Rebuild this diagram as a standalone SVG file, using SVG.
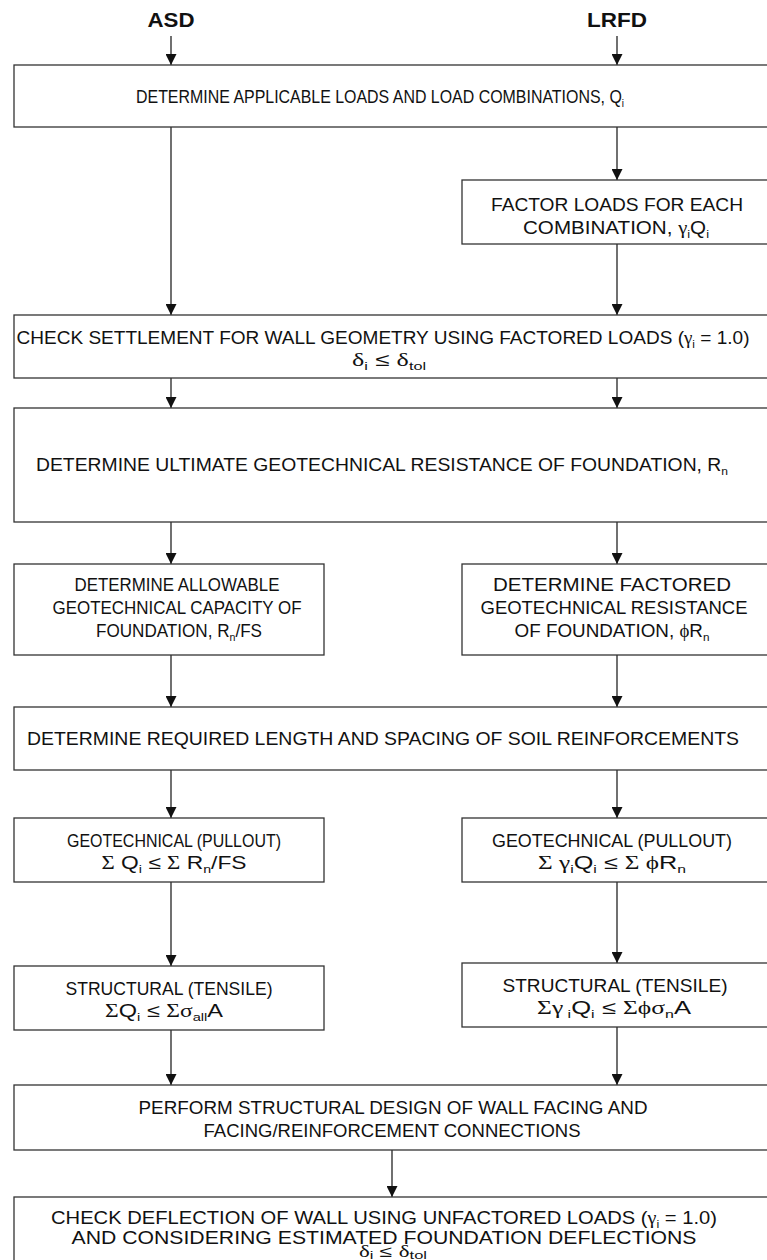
<svg xmlns="http://www.w3.org/2000/svg" width="767" height="1260" viewBox="0 0 767 1260">
  <defs>
    <style>
      .box { fill: #fff; stroke: #333; stroke-width: 1.3; }
      .wire { fill: none; stroke: #111; stroke-width: 1.2; }
      .t { font-family: "Liberation Sans", Arial, sans-serif; font-size: 18.5px; fill: #111; text-anchor: middle; }
      .head { font-family: "Liberation Sans", Arial, sans-serif; font-size: 21px; font-weight: bold; fill: #111; text-anchor: middle; }
      .g { font-family: "Liberation Serif", "DejaVu Serif", serif; }
      .s { font-size: 11.5px; }
    </style>
    <marker id="arrow" viewBox="0 0 10 10" refX="10" refY="5" markerWidth="11" markerHeight="11" markerUnits="userSpaceOnUse" orient="auto">
      <path d="M0,0 L10,5 L0,10 z" fill="#111"/>
    </marker>
  </defs>
  <rect width="767" height="1260" fill="#fff"/>

  <!-- column headings -->
  <g id="heading-asd"><text class="head" x="171" y="27" textLength="47" lengthAdjust="spacingAndGlyphs">ASD</text></g>
  <g id="heading-lrfd"><text class="head" x="617" y="27" textLength="60" lengthAdjust="spacingAndGlyphs">LRFD</text></g>

  <!-- connectors -->
  <g id="connectors" class="wire">
    <line x1="171" y1="36" x2="171" y2="65" marker-end="url(#arrow)"/>
    <line x1="617" y1="36" x2="617" y2="65" marker-end="url(#arrow)"/>
    <line x1="171" y1="127" x2="171" y2="315" marker-end="url(#arrow)"/>
    <line x1="617" y1="127" x2="617" y2="180" marker-end="url(#arrow)"/>
    <line x1="617" y1="244" x2="617" y2="315" marker-end="url(#arrow)"/>
    <line x1="171" y1="378" x2="171" y2="408" marker-end="url(#arrow)"/>
    <line x1="617" y1="378" x2="617" y2="408" marker-end="url(#arrow)"/>
    <line x1="171" y1="522" x2="171" y2="564" marker-end="url(#arrow)"/>
    <line x1="617" y1="522" x2="617" y2="564" marker-end="url(#arrow)"/>
    <line x1="171" y1="655" x2="171" y2="707" marker-end="url(#arrow)"/>
    <line x1="617" y1="655" x2="617" y2="707" marker-end="url(#arrow)"/>
    <line x1="171" y1="770" x2="171" y2="818" marker-end="url(#arrow)"/>
    <line x1="617" y1="770" x2="617" y2="818" marker-end="url(#arrow)"/>
    <line x1="171" y1="882" x2="171" y2="966" marker-end="url(#arrow)"/>
    <line x1="617" y1="882" x2="617" y2="963" marker-end="url(#arrow)"/>
    <line x1="171" y1="1030" x2="171" y2="1085" marker-end="url(#arrow)"/>
    <line x1="617" y1="1027" x2="617" y2="1085" marker-end="url(#arrow)"/>
    <line x1="392" y1="1150" x2="392" y2="1197" marker-end="url(#arrow)"/>
  </g>

  <g id="loads">
    <rect class="box" x="14" y="65" width="758" height="62"/>
    <text class="t" x="380" y="103" textLength="488" lengthAdjust="spacingAndGlyphs">DETERMINE APPLICABLE LOADS AND LOAD COMBINATIONS, Q<tspan class="s" dy="4">i</tspan></text>
  </g>

  <g id="factor-loads">
    <rect class="box" x="462" y="180" width="310" height="64"/>
    <text class="t" x="617" y="211" textLength="252" lengthAdjust="spacingAndGlyphs">FACTOR LOADS FOR EACH</text>
    <text class="t" x="616" y="234" textLength="186" lengthAdjust="spacingAndGlyphs">COMBINATION, <tspan class="g">γ</tspan><tspan class="s" dy="4">i</tspan><tspan dy="-4">Q</tspan><tspan class="s" dy="4">i</tspan></text>
  </g>

  <g id="settlement">
    <rect class="box" x="14" y="315" width="758" height="63"/>
    <text class="t" x="383" y="344" textLength="733" lengthAdjust="spacingAndGlyphs">CHECK SETTLEMENT FOR WALL GEOMETRY USING FACTORED LOADS (<tspan class="g">γ</tspan><tspan class="s" dy="4">i</tspan><tspan dy="-4"> = 1.0)</tspan></text>
    <text class="t" x="389" y="366" textLength="74" lengthAdjust="spacingAndGlyphs"><tspan class="g">δ</tspan><tspan class="s" dy="4">i</tspan><tspan dy="-4">  ≤ </tspan><tspan class="g">δ</tspan><tspan class="s" dy="4">tol</tspan></text>
  </g>

  <g id="ultimate-resistance">
    <rect class="box" x="14" y="408" width="758" height="114"/>
    <text class="t" x="382" y="471" textLength="692" lengthAdjust="spacingAndGlyphs">DETERMINE ULTIMATE GEOTECHNICAL RESISTANCE OF FOUNDATION, R<tspan class="s" dy="4">n</tspan></text>
  </g>

  <g id="allowable-capacity">
    <rect class="box" x="14" y="564" width="310" height="91"/>
    <text class="t" x="177" y="591" textLength="205" lengthAdjust="spacingAndGlyphs">DETERMINE ALLOWABLE</text>
    <text class="t" x="177" y="614" textLength="249" lengthAdjust="spacingAndGlyphs">GEOTECHNICAL CAPACITY OF</text>
    <text class="t" x="179" y="637" textLength="166" lengthAdjust="spacingAndGlyphs">FOUNDATION, R<tspan class="s" dy="4">n</tspan><tspan dy="-4">/FS</tspan></text>
  </g>

  <g id="factored-resistance">
    <rect class="box" x="462" y="564" width="310" height="91"/>
    <text class="t" x="612" y="591" textLength="238" lengthAdjust="spacingAndGlyphs">DETERMINE FACTORED</text>
    <text class="t" x="614" y="614" textLength="267" lengthAdjust="spacingAndGlyphs">GEOTECHNICAL RESISTANCE</text>
    <text class="t" x="612" y="637" textLength="195" lengthAdjust="spacingAndGlyphs">OF FOUNDATION, <tspan class="g">ϕ</tspan>R<tspan class="s" dy="4">n</tspan></text>
  </g>

  <g id="reinforcement-layout">
    <rect class="box" x="14" y="707" width="758" height="63"/>
    <text class="t" x="383" y="745" textLength="712" lengthAdjust="spacingAndGlyphs">DETERMINE REQUIRED LENGTH AND SPACING OF SOIL REINFORCEMENTS</text>
  </g>

  <g id="pullout-asd">
    <rect class="box" x="14" y="818" width="310" height="64"/>
    <text class="t" x="174" y="847" textLength="214" lengthAdjust="spacingAndGlyphs">GEOTECHNICAL (PULLOUT)</text>
    <text class="t" x="174" y="869" textLength="145" lengthAdjust="spacingAndGlyphs"><tspan class="g">Σ</tspan> Q<tspan class="s" dy="4">i</tspan><tspan dy="-4">  ≤ </tspan><tspan class="g">Σ</tspan> R<tspan class="s" dy="4">n</tspan><tspan dy="-4">/FS</tspan></text>
  </g>

  <g id="pullout-lrfd">
    <rect class="box" x="462" y="818" width="310" height="64"/>
    <text class="t" x="612" y="847" textLength="240" lengthAdjust="spacingAndGlyphs">GEOTECHNICAL (PULLOUT)</text>
    <text class="t" x="612" y="869" textLength="148" lengthAdjust="spacingAndGlyphs"><tspan class="g">Σ γ</tspan><tspan class="s" dy="4">i</tspan><tspan dy="-4">Q</tspan><tspan class="s" dy="4">i</tspan><tspan dy="-4">  ≤ </tspan><tspan class="g">Σ ϕ</tspan>R<tspan class="s" dy="4">n</tspan></text>
  </g>

  <g id="tensile-asd">
    <rect class="box" x="14" y="966" width="310" height="64"/>
    <text class="t" x="169" y="995" textLength="207" lengthAdjust="spacingAndGlyphs">STRUCTURAL (TENSILE)</text>
    <text class="t" x="164" y="1017" textLength="118" lengthAdjust="spacingAndGlyphs"><tspan class="g">Σ</tspan>Q<tspan class="s" dy="4">i</tspan><tspan dy="-4">  ≤ </tspan><tspan class="g">Σσ</tspan><tspan class="s" dy="4">all</tspan><tspan dy="-4">A</tspan></text>
  </g>

  <g id="tensile-lrfd">
    <rect class="box" x="462" y="963" width="310" height="64"/>
    <text class="t" x="615" y="992" textLength="225" lengthAdjust="spacingAndGlyphs">STRUCTURAL (TENSILE)</text>
    <text class="t" x="614" y="1014" textLength="154" lengthAdjust="spacingAndGlyphs"><tspan class="g">Σγ</tspan><tspan class="s" dy="4"> i</tspan><tspan dy="-4">Q</tspan><tspan class="s" dy="4">i</tspan><tspan dy="-4">  ≤ </tspan><tspan class="g">Σϕσ</tspan><tspan class="s" dy="4">n</tspan><tspan dy="-4">A</tspan></text>
  </g>

  <g id="facing-design">
    <rect class="box" x="14" y="1085" width="758" height="65"/>
    <text class="t" x="393" y="1114" textLength="509" lengthAdjust="spacingAndGlyphs">PERFORM STRUCTURAL DESIGN OF WALL FACING AND</text>
    <text class="t" x="392" y="1137" textLength="377" lengthAdjust="spacingAndGlyphs">FACING/REINFORCEMENT CONNECTIONS</text>
  </g>

  <g id="deflection">
    <rect class="box" x="14" y="1197" width="758" height="80"/>
    <text class="t" x="384" y="1224" textLength="666" lengthAdjust="spacingAndGlyphs">CHECK DEFLECTION OF WALL USING UNFACTORED LOADS (<tspan class="g">γ</tspan><tspan class="s" dy="4">i</tspan><tspan dy="-4"> = 1.0)</tspan></text>
    <text class="t" x="384" y="1244" textLength="625" lengthAdjust="spacingAndGlyphs">AND CONSIDERING ESTIMATED FOUNDATION DEFLECTIONS</text>
    <text class="t" x="393" y="1257" style="font-size:16px" textLength="68" lengthAdjust="spacingAndGlyphs"><tspan class="g">δ</tspan><tspan class="s" dy="2">i</tspan><tspan dy="-2">  ≤ </tspan><tspan class="g">δ</tspan><tspan class="s" dy="2">tol</tspan></text>
  </g>
</svg>
